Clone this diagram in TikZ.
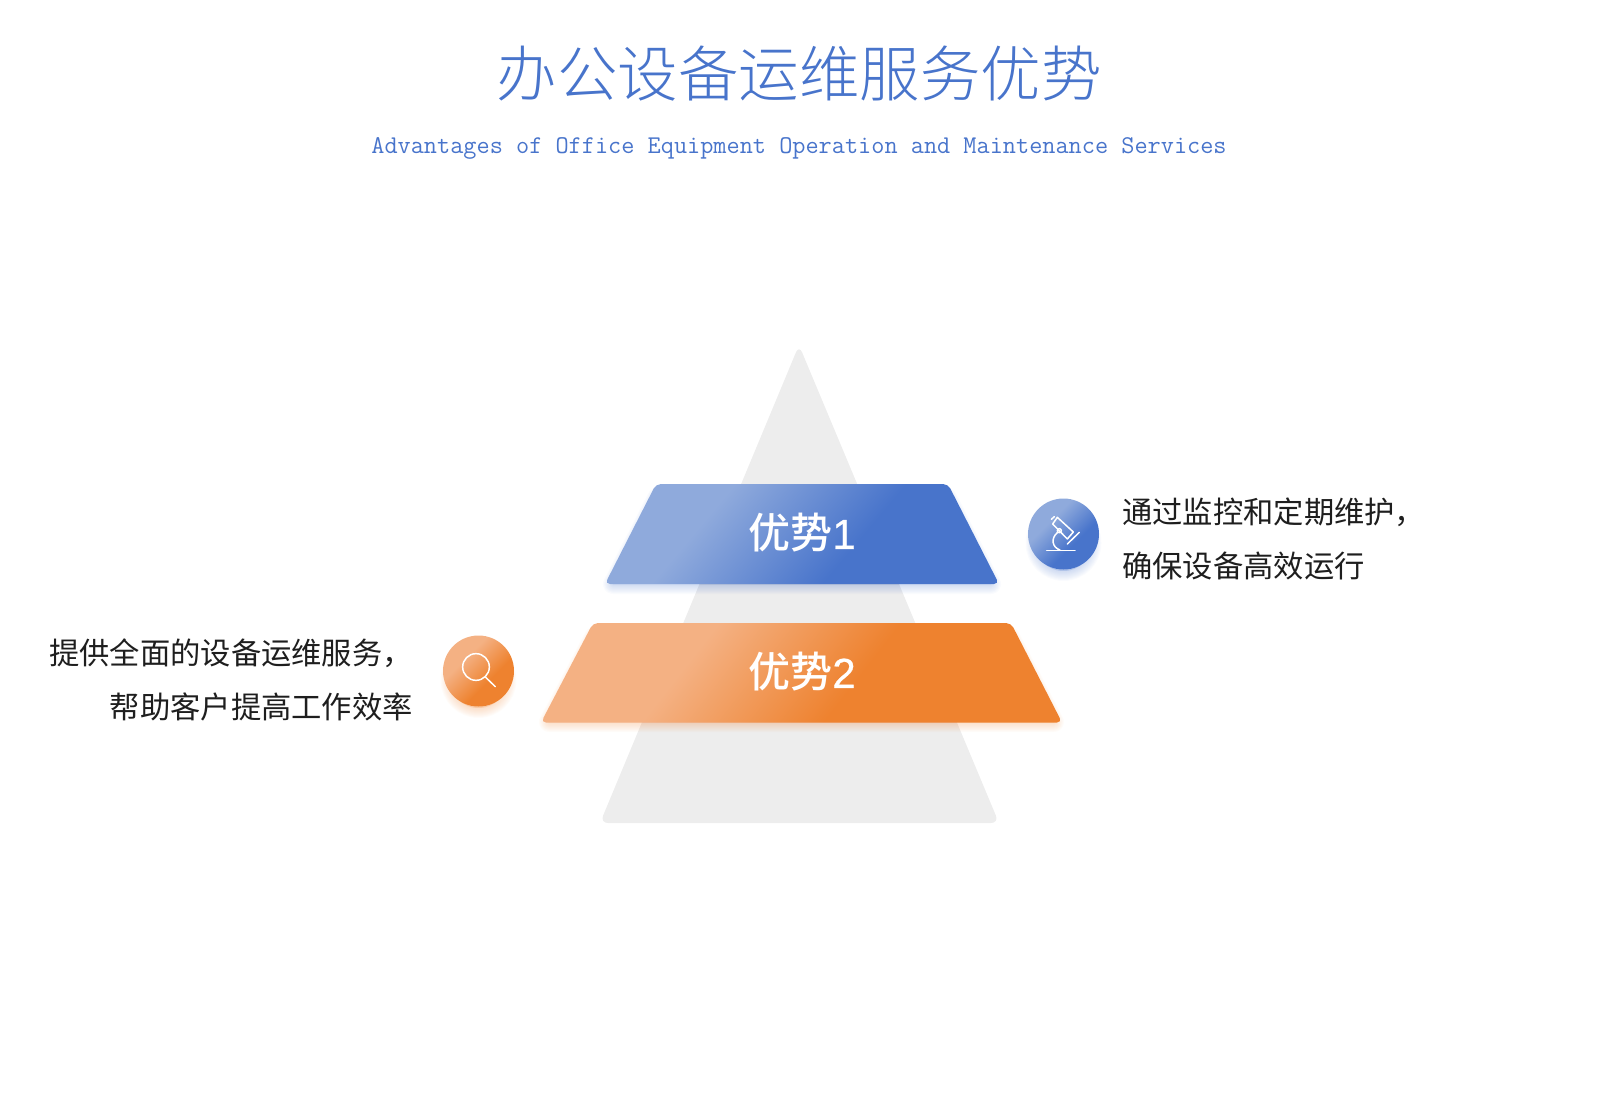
\documentclass[tikz,border=0pt]{standalone}
\usepackage{fontspec}
\usetikzlibrary{calc}
\newfontfamily\cjk{Noto Sans CJK SC}
\newfontfamily\cjklight{Noto Sans CJK SC Light}
\newfontfamily\cjkmed{Noto Sans CJK SC Medium}
\newfontfamily\banddigit[FakeBold=0.6]{Liberation Sans}
\definecolor{blueA}{HTML}{8FAADC}
\definecolor{blueB}{HTML}{4874CB}
\definecolor{orngA}{HTML}{F4B183}
\definecolor{orngB}{HTML}{EE822F}
\definecolor{headblue}{HTML}{4874CB}
\definecolor{pyrgray}{HTML}{EDEDED}
\definecolor{bodyink}{HTML}{1E1E1E}
\pgfdeclarehorizontalshading{blueband}{100bp}{color(0bp)=(blueA); color(43bp)=(blueA); color(54bp)=(blueB); color(100bp)=(blueB)}
\pgfdeclarehorizontalshading{orngband}{100bp}{color(0bp)=(orngA); color(42bp)=(orngA); color(54bp)=(orngB); color(100bp)=(orngB)}
\pgfdeclarehorizontalshading{bluedisc}{100bp}{color(0bp)=(blueA); color(37bp)=(blueA); color(60bp)=(blueB); color(100bp)=(blueB)}
\pgfdeclarehorizontalshading{orngdisc}{100bp}{color(0bp)=(orngA); color(37bp)=(orngA); color(60bp)=(orngB); color(100bp)=(orngB)}
\tikzset{
  bandlabel/.style={text=white,inner sep=0pt,font=\cjkmed\fontsize{42}{46}\selectfont},
  bodytext/.style={text=bodyink,inner sep=0pt,font=\cjk\fontsize{30.3}{54}\selectfont},
  iconline/.style={draw=white,line width=1.5pt,line cap=round,line join=round},
  softlayer/.style={draw=#1,fill=#1,opacity=.028,line join=round},
}
\begin{document}
\begin{tikzpicture}[x=1pt,y=-1pt]
\useasboundingbox (0,0) rectangle (1600,1107);
% background pyramid
\path[fill=pyrgray,rounded corners=8pt] (799,345) -- (999,823) -- (600,823) -- cycle;
% band shadows
\foreach \w in {2,4,6,8,10,12,14,16,18,20} {
  \path[softlayer=blueB,line width=\w pt]
    (657,498) -- (947,498) -- (991,584) -- (613,584) -- cycle;
  \path[softlayer=orngB,line width=\w pt]
    (594,637) -- (1010,637) -- (1054,722) -- (549,722) -- cycle;
  \path[softlayer=blueB,line width=\w pt] (1063.5,543) circle (28);
  \path[softlayer=orngB,line width=\w pt] (478.5,680) circle (28);
}
% blue band
\begin{scope}
  \clip[rounded corners=5pt] (656,484) -- (948,484) -- (999,584) -- (605,584) -- cycle;
  \shade[shading=blueband,shading angle=-40] (502,234) rectangle (1102,834);
\end{scope}
% orange band
\begin{scope}
  \clip[rounded corners=5pt] (593,623) -- (1011,623) -- (1062,722.5) -- (541,722.5) -- cycle;
  \shade[shading=orngband,shading angle=-38] (502,372) rectangle (1102,972);
\end{scope}
% discs
\shade[shading=bluedisc,shading angle=-45] (1063.5,534) circle (35.5);
\shade[shading=orngdisc,shading angle=-45] (478.5,671) circle (35.5);
% microscope icon
\begin{scope}[shift={(980,460)},x=.3333pt,y=-.3333pt]
  \path[iconline] (200,272) -- (285,272);
  \path[iconline] (232,172) -- (280,216) -- (262,237) -- (218,192) -- cycle;
  \path[iconline] (214,178) -- (223,170);
  \path[iconline] (262,252) -- (298,217);
  \path[iconline] (238,212) circle (6);
  \path[iconline] (232,218) .. controls (212,235) and (216,262) .. (240,270);
\end{scope}
% magnifier icon
\begin{scope}[shift={(420,600)},x=.3333pt,y=-.3333pt]
  \path[iconline] (168,201) circle (40);
  \path[iconline] (197,232) -- (226,260);
\end{scope}
% texts
\node[text=headblue,inner sep=0pt,font=\cjklight\fontsize{60.5}{66}\selectfont] (title) at (799,74) {办公设备运维服务优势};
\node[text=headblue,inner sep=0pt,font=\ttfamily\fontsize{25.55}{28}\selectfont] (subtitle) at (799,148) {Advantages of Office Equipment Operation and Maintenance Services};
\node[bandlabel] (adv1) at (802,533) {优势{\banddigit 1}};
\node[bandlabel] (adv2) at (802,672) {优势{\banddigit 2}};
\node[bodytext,anchor=west,align=left] (desc1) at (1122,539) {通过监控和定期维护，\\确保设备高效运行};
\node[bodytext,anchor=east,align=right] (desc2) at (413,680) {提供全面的设备运维服务，\\帮助客户提高工作效率};
\end{tikzpicture}
\end{document}
